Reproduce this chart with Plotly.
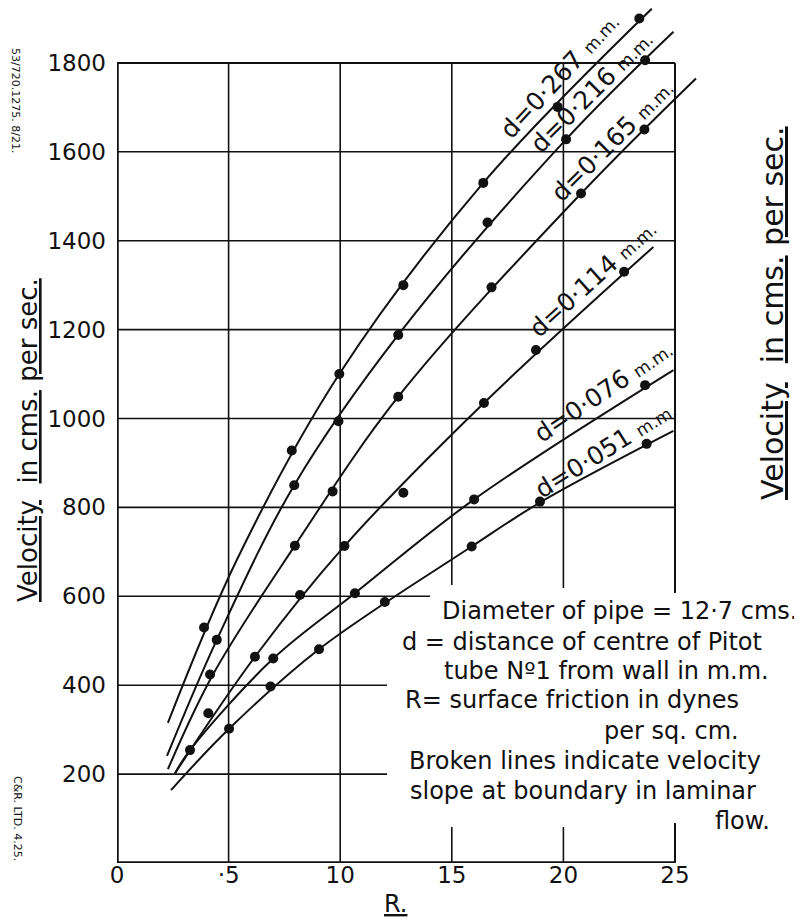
import plotly.graph_objects as go

# ---------------- data ----------------
labels = ["0·267", "0·216", "0·165", "0·114", "0·076", "0·051"]

# observed points (R, velocity)
pts_267_R = [3.9, 7.83, 9.96, 12.83, 16.41, 19.74, 23.4]
pts_267_V = [530, 928, 1100, 1300, 1530, 1701, 1900]
pts_216_R = [4.47, 7.94, 9.92, 12.6, 16.6, 20.12, 23.66]
pts_216_V = [502, 850, 994, 1188, 1441, 1628, 1806]
pts_165_R = [4.17, 7.97, 9.66, 12.6, 16.78, 20.79, 23.63]
pts_165_V = [424, 714, 836, 1049, 1295, 1506, 1650]
pts_114_R = [4.09, 6.18, 8.2, 10.19, 12.83, 16.44, 18.77, 22.72]
pts_114_V = [337, 464, 603, 713, 833, 1035, 1154, 1330]
pts_076_R = [3.27, 7.0, 10.66, 16.0, 23.66]
pts_076_V = [254, 460, 607, 818, 1075]
pts_051_R = [5.02, 6.88, 9.05, 12.0, 15.89, 18.95, 23.73]
pts_051_V = [302, 397, 481, 587, 712, 813, 943]

# drawn mean curves (R, velocity)
crv_267_R = [2.28, 5.36, 9.96, 16.41, 23.96]
crv_267_V = [315, 681, 1100, 1530, 1922]
crv_216_R = [2.24, 4.47, 7.94, 12.6, 20.12, 24.93]
crv_216_V = [241, 502, 850, 1188, 1628, 1870]
crv_165_R = [2.28, 4.3, 7.97, 12.6, 20.79, 25.94]
crv_165_V = [211, 424, 714, 1049, 1506, 1765]
crv_114_R = [2.6, 6.18, 10.19, 16.44, 24.03]
crv_114_V = [202, 464, 713, 1035, 1386]
crv_076_R = [2.6, 3.27, 7.0, 10.66, 16.0, 24.93]
crv_076_V = [202, 254, 460, 607, 818, 1109]
crv_051_R = [2.42, 5.02, 9.05, 15.89, 18.95, 24.93]
crv_051_V = [164, 302, 481, 712, 811, 972]

y_ticks = [200, 400, 600, 800, 1000, 1200, 1400, 1600, 1800]
y_ticktext = ["200", "400", "600", "800", "1000", "1200", "1400", "1600", "1800"]
x_ticks = [0, 5, 10, 15, 20, 25]
x_ticktext = ["0", "·5", "10", "15", "20", "25"]

pts_R = [pts_267_R, pts_216_R, pts_165_R, pts_114_R, pts_076_R, pts_051_R]
pts_V = [pts_267_V, pts_216_V, pts_165_V, pts_114_V, pts_076_V, pts_051_V]
crv_R = [crv_267_R, crv_216_R, crv_165_R, crv_114_R, crv_076_R, crv_051_R]
crv_V = [crv_267_V, crv_216_V, crv_165_V, crv_114_V, crv_076_V, crv_051_V]

# ---------------- layout helpers (page pixel -> axis / paper units) ----------------
BODY = 8                     # browser default body margin
X0, XU, Y0, YU = 117, 22.32, 863, 0.4445
PLOT_W, PLOT_H = 603, Y0 - BODY
def dx(px):
    return (px - X0) / XU
def dy(py):
    return (Y0 - py) / YU
def pxp(px):
    return (px - X0) / PLOT_W
def pyp(py):
    return (Y0 - py) / PLOT_H

FONT = "DejaVu Sans"
INK = "#111111"

fig = go.Figure()
for i in range(6):
    fig.add_trace(go.Scatter(x=crv_R[i], y=crv_V[i], mode="lines",
                             line=dict(color=INK, width=2, shape="spline", smoothing=1.0),
                             hoverinfo="skip", showlegend=False))
for i in range(6):
    fig.add_trace(go.Scatter(x=pts_R[i], y=pts_V[i], mode="markers",
                             marker=dict(color=INK, size=10, symbol="circle"),
                             name="d=" + labels[i] + " m.m.", showlegend=False))

shapes = []
def seg(x0, y0, x1, y1, w=1.6):
    shapes.append(dict(type="line", xref="x", yref="y", x0=x0, y0=y0, x1=x1, y1=y1,
                       line=dict(color=INK, width=w), layer="below"))

# horizontal grid
for v in y_ticks:
    if v in (200, 400):
        seg(0, v, dx(387), v)
    elif v == 600:
        seg(0, v, dx(430), v)
    elif v == 1800:
        seg(0, v, 25, v, 2)
    else:
        seg(0, v, 25, v)
# vertical grid
seg(5, 0, 5, 1800)
seg(10, 0, 10, 1800)
seg(15, 0, 15, dy(827)); seg(15, dy(585), 15, 1800)
seg(20, 0, 20, dy(827)); seg(20, dy(588), 20, 1800)
seg(25, 0, 25, dy(823), 2); seg(25, dy(593), 25, 1800, 2)
# main axes
seg(0, 0, 0, 1800, 3.5)
seg(0, 0, 25, 0, 3.5)

ann = []
def txt(px, py, text, size, angle=0, xanchor="center", yanchor="middle"):
    ann.append(dict(x=pxp(px), y=pyp(py), xref="paper", yref="paper", text=text,
                    showarrow=False, textangle=angle, xanchor=xanchor, yanchor=yanchor,
                    font=dict(family=FONT, size=size, color=INK)))

# curve labels
def lab(i):
    return "d=" + labels[i] + " <span style='font-size:17px'>m.m.</span>"
txt(560, 76, lab(0), 25, -47)
txt(592, 92, lab(1), 25, -45)
txt(612, 140, lab(2), 25, -45)
txt(593, 279, lab(3), 25, -42)
txt(603, 391, lab(4), 25, -34)
txt(605, 449, lab(5), 25, -32)

# notes block
txt(440, 611, "Diameter of pipe = 12·7 cms.", 24, xanchor="left")
txt(400, 642, "d = distance of centre of Pitot", 24, xanchor="left")
txt(442, 671, "tube Nº1 from wall in m.m.", 24, xanchor="left")
txt(403, 700, "R= surface friction in dynes", 24, xanchor="left")
txt(602, 731, "per sq. cm.", 24, xanchor="left")
txt(407, 761, "Broken lines indicate velocity", 24, xanchor="left")
txt(408, 791, "slope at boundary in laminar", 24, xanchor="left")
txt(713, 821, "flow.", 24, xanchor="left")

# axis titles
txt(395, 904, "<u>R.</u>", 24)
txt(28, 440, "<u>Velocity</u>  <u>in cms.</u> <u>per sec.</u>", 26, -90)
txt(772, 313, "<u>Velocity</u>  <u>in cms.</u> <u>per sec.</u>", 30, -90)

# margin imprints
txt(16, 100, "53/720.1275. 8/21.", 11, 90)
txt(18, 818, "C&R. LTD. 4.25.", 11, 90)

fig.update_layout(
    width=802 - BODY, height=922 - BODY,
    margin=dict(l=X0 - BODY, r=802 - BODY - (X0 - BODY) - PLOT_W, t=0, b=922 - Y0),
    paper_bgcolor="white", plot_bgcolor="white",
    shapes=shapes, annotations=ann,
    font=dict(family=FONT, color=INK),
    xaxis=dict(range=[0, PLOT_W / XU], showgrid=False, zeroline=False, showline=False,
               tickvals=x_ticks, ticktext=x_ticktext, ticks="", ticklabelstandoff=-4,
               tickfont=dict(family=FONT, size=23, color=INK)),
    yaxis=dict(range=[0, PLOT_H / YU], showgrid=False, zeroline=False, showline=False,
               tickvals=y_ticks, ticktext=y_ticktext, ticks="", ticklabelstandoff=10,
               tickfont=dict(family=FONT, size=23, color=INK)),
)

fig.write_html("out.html")
